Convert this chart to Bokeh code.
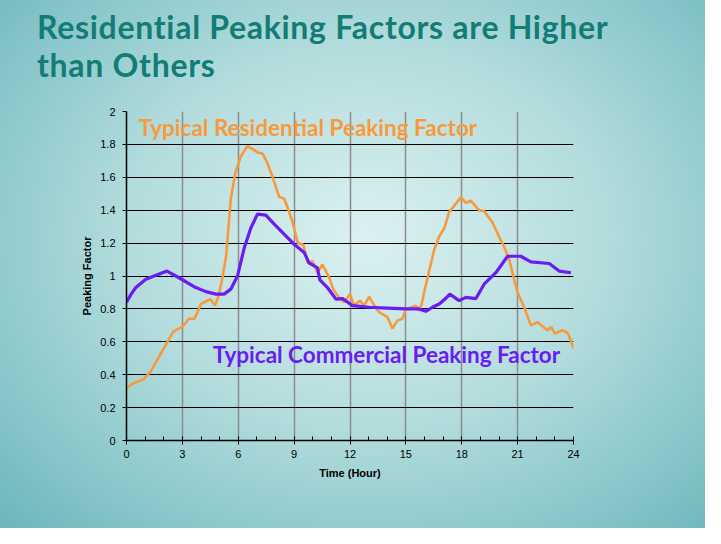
from bokeh.plotting import figure
from bokeh.models import FixedTicker, Label, Range1d, Div
from bokeh.layouts import column
from bokeh.embed import file_html
from bokeh.resources import INLINE

# ---- data ----
res_hours = [0.0, 0.4, 0.9, 1.3, 1.6, 2.1, 2.5, 2.8, 3.0, 3.35, 3.65, 4.0, 4.5, 4.75, 4.95,
             5.15, 5.35, 5.45, 5.6, 5.85, 6.15, 6.5, 6.8, 7.05, 7.3, 7.55, 7.85, 8.2, 8.47,
             8.7, 8.91, 9.2, 9.5, 9.72, 9.99, 10.26, 10.52, 10.88, 11.1, 11.4, 11.69, 12.0,
             12.22, 12.53, 12.76, 13.03, 13.3, 13.57, 14.01, 14.28, 14.55, 14.82, 15.0, 15.3,
             15.53, 15.71, 15.85, 16.0, 16.25, 16.52, 16.79, 17.06, 17.33, 17.69, 17.96,
             18.22, 18.49, 18.93, 19.2, 19.65, 20.0, 20.3, 20.55, 20.81, 21.0, 21.35, 21.71,
             22.07, 22.43, 22.6, 22.8, 23.0, 23.4, 23.68, 23.85, 24.0]
res_pf = [0.32, 0.35, 0.37, 0.42, 0.48, 0.58, 0.66, 0.68, 0.69, 0.74, 0.74, 0.83, 0.86, 0.82, 0.88,
          0.99, 1.12, 1.26, 1.47, 1.63, 1.73, 1.79, 1.77, 1.75, 1.745, 1.69, 1.60, 1.48, 1.47,
          1.40, 1.33, 1.20, 1.19, 1.08, 1.09, 1.02, 1.07, 0.99, 0.92, 0.87, 0.84, 0.89,
          0.82, 0.85, 0.82, 0.875, 0.82, 0.78, 0.75, 0.68, 0.73, 0.74, 0.80, 0.81,
          0.82, 0.79, 0.83, 0.91, 1.03, 1.16, 1.24, 1.29, 1.39, 1.44, 1.48,
          1.445, 1.457, 1.40, 1.395, 1.325, 1.24, 1.17, 1.10, 0.98, 0.90, 0.81, 0.70,
          0.72, 0.685, 0.67, 0.69, 0.65, 0.67, 0.655, 0.61, 0.56]

com_hours = [0.0, 0.25, 0.5, 1.04, 1.58, 2.17, 2.65, 3.19, 3.72, 4.26, 4.8, 5.24, 5.6, 5.96,
             6.32, 6.67, 7.03, 7.48, 7.93, 8.46, 9.0, 9.54, 9.8, 10.25, 10.38, 10.79, 11.24,
             11.6, 12.13, 13.03, 14.0, 15.0, 15.7, 16.07, 16.43, 16.79, 17.1, 17.36, 17.86,
             18.22, 18.76, 19.2, 19.83, 20.46, 21.17, 21.71, 22.7, 23.23, 23.86]
com_pf = [0.84, 0.89, 0.93, 0.98, 1.005, 1.03, 1.00, 0.965, 0.93, 0.905, 0.89, 0.89, 0.92, 1.00,
          1.17, 1.29, 1.376, 1.37, 1.315, 1.254, 1.193, 1.143, 1.08, 1.05, 0.977, 0.93, 0.86,
          0.863, 0.82, 0.81, 0.805, 0.80, 0.80, 0.785, 0.81, 0.83, 0.86, 0.89, 0.85,
          0.87, 0.863, 0.95, 1.02, 1.12, 1.12, 1.086, 1.076, 1.03, 1.02]

x_ticks = [0, 3, 6, 9, 12, 15, 18, 21, 24]
x_minor = list(range(0, 25))
y_ticks = [0, 0.2, 0.4, 0.6, 0.8, 1.0, 1.2, 1.4, 1.6, 1.8, 2.0]
y_tick_labels = ["0", "0.2", "0.4", "0.6", "0.8", "1", "1.2", "1.4", "1.6", "1.8", "2"]

title_lines = ["Residential Peaking Factors are Higher", "than Others"]
res_label = "Typical Residential Peaking Factor"
com_label = "Typical Commercial Peaking Factor"

TEAL = "#127c75"
ORANGE = "#f89a3c"
PURPLE = "#6a1cf3"

W, H = 705, 528
DIV_H = 100

title_div = Div(
    text="<br>".join(title_lines),
    width=W, height=DIV_H, margin=(0, 0, 0, 0),
    styles={"font-family": "Lato", "font-weight": "bold", "font-size": "32px",
            "letter-spacing": "0.7px",
            "color": TEAL, "line-height": "37.5px", "padding-left": "37px",
            "padding-top": "8px", "box-sizing": "border-box"},
)

p = figure(width=W, height=H - DIV_H, output_backend="svg", toolbar_location=None,
           title=None,
           x_range=Range1d(0, 24), y_range=Range1d(0, 2),
           min_border_left=126, min_border_right=132, min_border_top=111 - DIV_H,
           min_border_bottom=88,
           border_fill_color=None, background_fill_color=None, outline_line_color=None,
           margin=(0, 0, 0, 0))

# grids
p.xgrid.ticker = FixedTicker(ticks=x_ticks)
p.xgrid.grid_line_color = "#8c8c8c"
p.xgrid.grid_line_width = 1.5
p.ygrid.ticker = FixedTicker(ticks=y_ticks)
p.ygrid.grid_line_color = "black"
p.ygrid.grid_line_width = 1.1

# axes
p.xaxis.ticker = FixedTicker(ticks=x_ticks, minor_ticks=x_minor)
p.yaxis.ticker = FixedTicker(ticks=y_ticks, minor_ticks=[])
p.yaxis.major_label_overrides = dict(zip(y_ticks, y_tick_labels))
for ax in (p.xaxis[0], p.yaxis[0]):
    ax.axis_line_color = "black"
    ax.axis_line_width = 1.5
    ax.major_tick_line_color = "black"
    ax.minor_tick_line_color = "black"
    ax.major_tick_out = 4
    ax.major_tick_in = 0
    ax.major_label_text_font = "Liberation Sans"
    ax.major_label_text_font_size = "11px"
    ax.major_label_text_color = "black"
    ax.axis_label_text_font = "Liberation Sans"
    ax.axis_label_text_font_size = "11px"
    ax.axis_label_text_font_style = "bold"
    ax.axis_label_text_color = "black"
p.xaxis.minor_tick_in = 4
p.xaxis.minor_tick_out = 0
p.xaxis.major_label_standoff = 5
p.xaxis.axis_label = "Time (Hour)"
p.xaxis.axis_label_standoff = 6
p.yaxis.minor_tick_line_color = None
p.yaxis.major_label_standoff = 7
p.yaxis.axis_label = "Peaking Factor"
p.yaxis.axis_label_standoff = 4

# lines
p.line(res_hours, res_pf, line_color=ORANGE, line_width=2.6)
p.line(com_hours, com_pf, line_color=PURPLE, line_width=3.2)

# in-plot labels
p.add_layout(Label(x=9.74, y=1.90, text=res_label, text_align="center", text_baseline="alphabetic",
                   text_font="Lato", text_font_style="bold", text_font_size="22.5px", text_color=ORANGE))
p.add_layout(Label(x=13.96, y=0.52, text=com_label, text_align="center", text_baseline="alphabetic",
                   text_font="Lato", text_font_style="bold", text_font_size="22.5px", text_color=PURPLE))

page = column(title_div, p, spacing=0, margin=(0, 0, 0, 0),
              styles={"background": "radial-gradient(ellipse 75% 80% at 52% 45%, #dcf1f1 0%, #b3dcdd 45%, #84c4c7 80%, #68b4b9 100%)"})

open("out.html", "w").write(file_html(page, INLINE))
